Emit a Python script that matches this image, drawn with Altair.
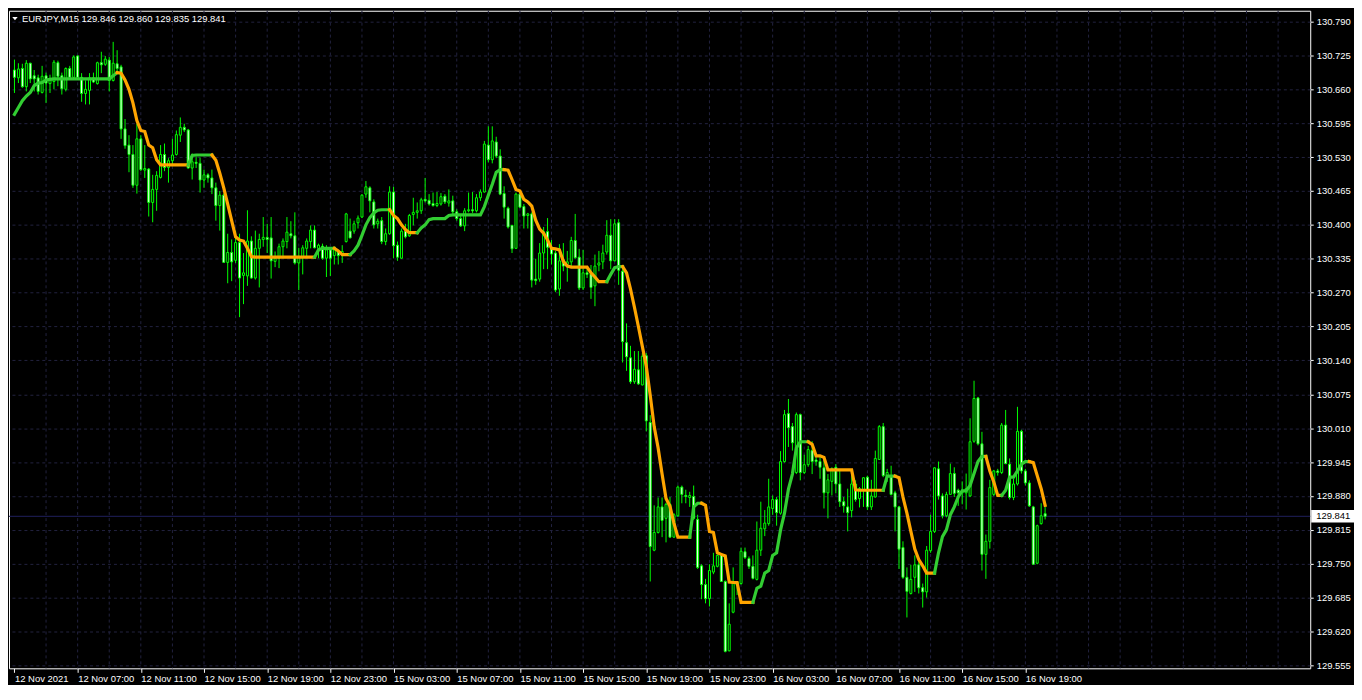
import altair as alt
import pandas as pd

FONT = "Liberation Sans"
LIME = "#00FF00"
MA_UP = "#32CD32"
MA_DOWN = "#FFA500"
GRID = "#22223f"
BIDLINE = "#20205e"

symbol = "EURJPY,M15"

opens = [
130.697, 130.682, 130.700, 130.665, 130.710, 130.686, 130.682, 130.654, 130.686, 130.671,
130.675, 130.711, 130.686, 130.660, 130.700, 130.683, 130.724, 130.683, 130.652, 130.658,
130.682, 130.671, 130.711, 130.708, 130.716, 130.677, 130.709, 130.703, 130.584, 130.553,
130.535, 130.476, 130.565, 130.505, 130.507, 130.443, 130.468, 130.491, 130.535, 130.510,
130.523, 130.535, 130.572, 130.587, 130.582, 130.509, 130.520, 130.518, 130.486, 130.496,
130.490, 130.471, 130.437, 130.457, 130.328, 130.347, 130.332, 130.366, 130.303, 130.302,
130.369, 130.298, 130.355, 130.372, 130.376, 130.375, 130.330, 130.336, 130.358, 130.368,
130.383, 130.379, 130.327, 130.339, 130.355, 130.368, 130.390, 130.355, 130.359, 130.336,
130.352, 130.341, 130.350, 130.345, 130.368, 130.388, 130.388, 130.404, 130.415, 130.459,
130.471, 130.444, 130.402, 130.408, 130.368, 130.383, 130.463, 130.361, 130.336, 130.388,
130.379, 130.420, 130.424, 130.427, 130.449, 130.447, 130.441, 130.437, 130.440, 130.455,
130.442, 130.446, 130.425, 130.412, 130.398, 130.427, 130.429, 130.427, 130.452, 130.463,
130.553, 130.525, 130.559, 130.532, 130.460, 130.432, 130.399, 130.355, 130.459, 130.435,
130.418, 130.421, 130.296, 130.296, 130.346, 130.387, 130.357, 130.346, 130.277, 130.333,
130.324, 130.329, 130.370, 130.338, 130.279, 130.308, 130.306, 130.283, 130.323, 130.329,
130.348, 130.380, 130.331, 130.404, 130.311, 130.174, 130.145, 130.099, 130.122, 130.093,
130.149, 130.021, 129.776, 129.810, 129.859, 129.837, 129.864, 129.801, 129.842, 129.897,
129.881, 129.877, 129.879, 129.835, 129.746, 129.710, 129.683, 129.734, 129.745, 129.766,
129.716, 129.583, 129.657, 129.715, 129.712, 129.773, 129.760, 129.745, 129.720, 129.776,
129.817, 129.827, 129.856, 129.873, 129.847, 129.946, 130.038, 130.013, 129.925, 130.036,
129.925, 129.940, 129.967, 129.949, 129.946, 129.934, 129.886, 129.908, 129.935, 129.903,
129.869, 129.859, 129.852, 129.903, 129.875, 129.892, 129.916, 129.859, 129.878, 129.950,
130.013, 129.917, 129.919, 129.886, 129.859, 129.781, 129.724, 129.693, 129.724, 129.748,
129.704, 129.696, 129.775, 129.812, 129.932, 129.880, 129.842, 129.883, 129.923, 129.891,
129.886, 129.886, 129.880, 129.985, 130.068, 129.980, 129.768, 129.793, 129.883, 129.928,
129.925, 130.016, 129.941, 129.877, 129.903, 130.004, 129.928, 129.905, 129.859, 129.751,
129.827, 129.846]

highs = [
130.717, 130.710, 130.709, 130.716, 130.711, 130.697, 130.688, 130.705, 130.692, 130.688,
130.716, 130.715, 130.692, 130.702, 130.705, 130.725, 130.725, 130.691, 130.677, 130.691,
130.692, 130.713, 130.732, 130.724, 130.722, 130.751, 130.735, 130.707, 130.603, 130.572,
130.553, 130.594, 130.572, 130.553, 130.509, 130.496, 130.503, 130.553, 130.556, 130.528,
130.565, 130.581, 130.606, 130.594, 130.584, 130.537, 130.531, 130.529, 130.506, 130.499,
130.506, 130.481, 130.465, 130.460, 130.383, 130.372, 130.389, 130.383, 130.346, 130.428,
130.378, 130.389, 130.383, 130.415, 130.402, 130.415, 130.349, 130.364, 130.374, 130.415,
130.407, 130.424, 130.356, 130.361, 130.374, 130.399, 130.399, 130.364, 130.364, 130.361,
130.355, 130.358, 130.352, 130.361, 130.423, 130.412, 130.408, 130.418, 130.459, 130.484,
130.474, 130.449, 130.412, 130.415, 130.393, 130.474, 130.473, 130.368, 130.393, 130.402,
130.421, 130.452, 130.443, 130.452, 130.490, 130.459, 130.462, 130.463, 130.461, 130.459,
130.468, 130.456, 130.430, 130.418, 130.432, 130.462, 130.463, 130.459, 130.468, 130.561,
130.589, 130.589, 130.569, 130.545, 130.474, 130.435, 130.400, 130.462, 130.465, 130.440,
130.423, 130.424, 130.335, 130.365, 130.396, 130.413, 130.371, 130.350, 130.363, 130.365,
130.350, 130.377, 130.421, 130.354, 130.352, 130.318, 130.323, 130.343, 130.350, 130.362,
130.409, 130.411, 130.411, 130.411, 130.318, 130.211, 130.168, 130.158, 130.158, 130.154,
130.154, 130.035, 129.862, 129.877, 129.877, 129.867, 129.878, 129.847, 129.900, 129.900,
129.892, 129.888, 129.900, 129.844, 129.749, 129.721, 129.749, 129.771, 129.768, 129.770,
129.718, 129.674, 129.743, 129.716, 129.781, 129.781, 129.764, 129.766, 129.831, 129.869,
129.853, 129.913, 129.881, 129.878, 129.966, 130.045, 130.066, 130.020, 130.040, 130.038,
129.959, 129.976, 129.985, 129.960, 129.955, 129.950, 129.922, 129.935, 129.941, 129.928,
129.878, 129.894, 129.928, 129.910, 129.897, 129.916, 129.919, 129.911, 129.967, 130.016,
130.020, 129.932, 129.938, 129.890, 129.861, 129.793, 129.743, 129.748, 129.766, 129.756,
129.712, 129.784, 129.844, 129.935, 129.946, 129.885, 129.888, 129.942, 129.935, 129.894,
129.908, 129.923, 130.029, 130.101, 130.070, 130.003, 129.806, 129.911, 129.930, 129.932,
130.020, 130.045, 129.952, 129.913, 130.051, 130.007, 129.932, 129.910, 129.861, 129.825,
129.866, 129.860]

lows = [
130.653, 130.672, 130.663, 130.656, 130.672, 130.656, 130.650, 130.652, 130.634, 130.653,
130.660, 130.666, 130.650, 130.656, 130.678, 130.678, 130.680, 130.636, 130.631, 130.631,
130.672, 130.669, 130.691, 130.705, 130.656, 130.675, 130.692, 130.565, 130.546, 130.501,
130.471, 130.460, 130.503, 130.490, 130.416, 130.405, 130.427, 130.489, 130.503, 130.481,
130.515, 130.533, 130.559, 130.578, 130.508, 130.487, 130.509, 130.462, 130.471, 130.481,
130.459, 130.408, 130.389, 130.327, 130.288, 130.292, 130.327, 130.223, 130.248, 130.283,
130.297, 130.295, 130.280, 130.358, 130.346, 130.297, 130.319, 130.317, 130.336, 130.355,
130.374, 130.324, 130.275, 130.305, 130.336, 130.355, 130.355, 130.336, 130.333, 130.300,
130.302, 130.324, 130.324, 130.327, 130.366, 130.374, 130.383, 130.393, 130.413, 130.452,
130.424, 130.393, 130.393, 130.363, 130.361, 130.381, 130.336, 130.331, 130.335, 130.374,
130.377, 130.399, 130.412, 130.421, 130.443, 130.437, 130.435, 130.434, 130.437, 130.440,
130.435, 130.421, 130.408, 130.396, 130.388, 130.424, 130.423, 130.424, 130.446, 130.462,
130.520, 130.518, 130.528, 130.457, 130.412, 130.393, 130.346, 130.354, 130.432, 130.393,
130.393, 130.280, 130.285, 130.291, 130.315, 130.315, 130.324, 130.271, 130.264, 130.311,
130.291, 130.319, 130.335, 130.275, 130.275, 130.298, 130.258, 130.244, 130.311, 130.315,
130.343, 130.315, 130.330, 130.285, 130.136, 130.120, 130.095, 130.095, 130.093, 130.092,
130.004, 129.716, 129.774, 129.808, 129.801, 129.791, 129.800, 129.800, 129.840, 129.866,
129.866, 129.859, 129.834, 129.740, 129.682, 129.674, 129.668, 129.730, 129.743, 129.715,
129.580, 129.582, 129.655, 129.690, 129.710, 129.759, 129.740, 129.720, 129.718, 129.765,
129.803, 129.823, 129.844, 129.823, 129.844, 129.944, 129.974, 129.967, 129.922, 129.910,
129.922, 129.936, 129.922, 129.938, 129.913, 129.856, 129.837, 129.881, 129.885, 129.859,
129.848, 129.812, 129.839, 129.869, 129.858, 129.859, 129.853, 129.853, 129.877, 129.949,
129.916, 129.907, 129.881, 129.812, 129.740, 129.721, 129.647, 129.691, 129.696, 129.693,
129.666, 129.685, 129.771, 129.809, 129.873, 129.837, 129.839, 129.883, 129.878, 129.861,
129.864, 129.854, 129.878, 129.982, 129.977, 129.737, 129.721, 129.779, 129.880, 129.919,
129.922, 129.941, 129.873, 129.872, 129.900, 129.923, 129.900, 129.859, 129.748, 129.749,
129.825, 129.835]

closes = [
130.683, 130.699, 130.665, 130.710, 130.680, 130.680, 130.656, 130.685, 130.672, 130.681,
130.712, 130.685, 130.661, 130.700, 130.683, 130.722, 130.683, 130.652, 130.660, 130.682,
130.674, 130.711, 130.707, 130.718, 130.677, 130.710, 130.700, 130.584, 130.552, 130.535,
130.476, 130.565, 130.506, 130.508, 130.443, 130.468, 130.495, 130.535, 130.510, 130.523,
130.534, 130.573, 130.587, 130.582, 130.509, 130.521, 130.518, 130.486, 130.496, 130.490,
130.471, 130.437, 130.457, 130.328, 130.347, 130.329, 130.366, 130.298, 130.308, 130.369,
130.298, 130.355, 130.372, 130.376, 130.372, 130.331, 130.336, 130.358, 130.369, 130.386,
130.379, 130.327, 130.339, 130.356, 130.369, 130.390, 130.356, 130.361, 130.336, 130.352,
130.336, 130.352, 130.341, 130.349, 130.421, 130.375, 130.402, 130.413, 130.457, 130.473,
130.446, 130.400, 130.407, 130.368, 130.383, 130.463, 130.360, 130.338, 130.388, 130.377,
130.418, 130.424, 130.427, 130.448, 130.446, 130.440, 130.437, 130.441, 130.454, 130.444,
130.446, 130.425, 130.412, 130.398, 130.427, 130.429, 130.427, 130.452, 130.463, 130.555,
130.525, 130.561, 130.532, 130.459, 130.434, 130.396, 130.354, 130.459, 130.434, 130.417,
130.421, 130.294, 130.293, 130.346, 130.387, 130.357, 130.344, 130.275, 130.331, 130.321,
130.329, 130.370, 130.337, 130.279, 130.308, 130.305, 130.280, 130.321, 130.327, 130.346,
130.380, 130.331, 130.402, 130.313, 130.176, 130.147, 130.099, 130.123, 130.095, 130.148,
130.024, 129.783, 129.810, 129.859, 129.833, 129.864, 129.801, 129.844, 129.897, 129.883,
129.879, 129.881, 129.837, 129.743, 129.710, 129.683, 129.737, 129.746, 129.766, 129.716,
129.582, 129.634, 129.714, 129.709, 129.774, 129.762, 129.745, 129.722, 129.776, 129.818,
129.828, 129.859, 129.873, 129.848, 129.946, 130.036, 130.011, 129.982, 130.036, 129.925,
129.940, 129.969, 129.946, 129.946, 129.935, 129.886, 129.911, 129.932, 129.903, 129.869,
129.861, 129.848, 129.903, 129.873, 129.894, 129.915, 129.859, 129.880, 129.952, 130.013,
129.919, 129.925, 129.883, 129.859, 129.778, 129.724, 129.697, 129.720, 129.748, 129.704,
129.696, 129.776, 129.812, 129.934, 129.880, 129.842, 129.883, 129.923, 129.885, 129.886,
129.890, 129.894, 129.984, 130.067, 129.980, 129.768, 129.793, 129.896, 129.928, 129.925,
130.016, 129.942, 129.877, 129.903, 130.004, 129.928, 129.905, 129.861, 129.749, 129.823,
129.842, 129.841]

ma_values = [
130.612, 130.625, 130.638, 130.647, 130.654, 130.667, 130.672, 130.673, 130.678, 130.679,
130.680, 130.680, 130.680, 130.680, 130.680, 130.680, 130.680, 130.680, 130.680, 130.680,
130.680, 130.680, 130.680, 130.680, 130.680, 130.686, 130.692, 130.691, 130.678, 130.660,
130.634, 130.600, 130.581, 130.579, 130.553, 130.548, 130.525, 130.515, 130.515, 130.515,
130.515, 130.515, 130.515, 130.515, 130.515, 130.533, 130.534, 130.534, 130.534, 130.534,
130.534, 130.524, 130.499, 130.471, 130.440, 130.408, 130.377, 130.371, 130.369, 130.355,
130.339, 130.338, 130.338, 130.338, 130.338, 130.338, 130.338, 130.338, 130.338, 130.338,
130.338, 130.338, 130.338, 130.338, 130.338, 130.338, 130.338, 130.352, 130.355, 130.355,
130.355, 130.355, 130.350, 130.343, 130.343, 130.343, 130.350, 130.361, 130.380, 130.400,
130.414, 130.423, 130.428, 130.429, 130.429, 130.429, 130.418, 130.412, 130.400, 130.391,
130.385, 130.385, 130.385, 130.394, 130.400, 130.410, 130.412, 130.412, 130.412, 130.412,
130.418, 130.419, 130.419, 130.419, 130.419, 130.419, 130.419, 130.419, 130.419, 130.435,
130.457, 130.478, 130.501, 130.506, 130.506, 130.505, 130.487, 130.468, 130.465, 130.449,
130.444, 130.436, 130.409, 130.392, 130.384, 130.371, 130.355, 130.354, 130.352, 130.330,
130.321, 130.319, 130.319, 130.319, 130.319, 130.319, 130.308, 130.300, 130.291, 130.291,
130.291, 130.305, 130.318, 130.320, 130.320, 130.308, 130.277, 130.242, 130.205, 130.167,
130.129, 130.073, 130.013, 129.972, 129.922, 129.875, 129.860, 129.828, 129.801, 129.801,
129.801, 129.801, 129.859, 129.866, 129.866, 129.862, 129.812, 129.810, 129.771, 129.768,
129.765, 129.715, 129.714, 129.714, 129.676, 129.676, 129.676, 129.676, 129.703, 129.707,
129.732, 129.737, 129.766, 129.771, 129.815, 129.847, 129.893, 129.922, 129.972, 129.984,
129.984, 129.984, 129.979, 129.957, 129.957, 129.954, 129.930, 129.930, 129.930, 129.930,
129.930, 129.930, 129.930, 129.892, 129.891, 129.891, 129.891, 129.891, 129.891, 129.891,
129.891, 129.918, 129.918, 129.918, 129.915, 129.878, 129.847, 129.812, 129.778, 129.758,
129.746, 129.732, 129.732, 129.732, 129.771, 129.802, 129.815, 129.844, 129.859, 129.878,
129.890, 129.890, 129.900, 129.923, 129.946, 129.956, 129.956, 129.928, 129.907, 129.881,
129.881, 129.891, 129.916, 129.916, 129.928, 129.941, 129.946, 129.946, 129.944, 129.919,
129.894, 129.862]

price_ticks = [129.555, 129.620, 129.685, 129.750, 129.815, 129.880, 129.945, 130.010,
               130.075, 130.140, 130.205, 130.270, 130.335, 130.400, 130.465, 130.530,
               130.595, 130.660, 130.725, 130.790]

time_labels = ["12 Nov 2021", "12 Nov 07:00", "12 Nov 11:00", "12 Nov 15:00",
               "12 Nov 19:00", "12 Nov 23:00", "15 Nov 03:00", "15 Nov 07:00",
               "15 Nov 11:00", "15 Nov 15:00", "15 Nov 19:00", "15 Nov 23:00",
               "16 Nov 03:00", "16 Nov 07:00", "16 Nov 11:00", "16 Nov 15:00",
               "16 Nov 19:00"]
time_label_bars = [0, 16, 32, 48, 64, 80, 96, 112, 128, 144, 160, 176, 192, 208, 224, 240, 256]
time_grid_bars = [8, 16, 24, 32, 40, 48, 56, 64, 72, 80, 88, 96, 104, 112, 120, 128, 136,
                  144, 152, 160, 168, 176, 184, 192, 200, 208, 216, 224, 232, 240, 248,
                  256, 264, 272, 280, 288, 296, 304, 312, 320]

n = len(closes)
assert len(opens) == n and len(highs) == n and len(lows) == n and len(ma_values) == n

W, H = 1308, 661

df = pd.DataFrame({"k": list(range(n)), "open": opens, "high": highs,
                   "low": lows, "close": closes})
df["top"] = df[["open", "close"]].max(axis=1)
df["bot"] = df[["open", "close"]].min(axis=1)
df["side"] = ["bear" if c < o else "bull" for o, c in zip(opens, closes)]

# moving-average coloured by direction (flat parts keep previous colour)
trend = []
cur = "up"
for i, v in enumerate(ma_values):
    if i > 0:
        if v > ma_values[i - 1]:
            cur = "up"
        elif v < ma_values[i - 1]:
            cur = "down"
    trend.append(cur)
ma_rows = []
run = 0
for i, v in enumerate(ma_values):
    if i > 0 and trend[i] != trend[i - 1]:
        run += 1
        ma_rows.append({"k": i - 1, "ma": ma_values[i - 1], "run": run, "trend": trend[i]})
    ma_rows.append({"k": i, "ma": v, "run": run, "trend": trend[i]})
ma_df = pd.DataFrame(ma_rows)

xscale = alt.Scale(domain=[-0.125, 326.875], nice=False, zero=False)
yscale = alt.Scale(domain=[129.5494, 130.8107], nice=False, zero=False)

label_expr = "[" + ",".join("'%s'" % t for t in time_labels) + "][round(datum.value/16)]"
x_axis = alt.Axis(values=time_label_bars, labelExpr=label_expr, labelAlign="left",
                  labelColor="white", labelFont=FONT, labelFontSize=9.5, labelPadding=1,
                  tickColor="white", tickSize=4, domain=False, grid=False,
                  labelOverlap=False, labelFlush=False, labelBound=False, title=None)
y_axis = alt.Axis(orient="right", values=price_ticks, format=".3f", labelColor="white",
                  labelFont=FONT, labelFontSize=9.5, labelPadding=3, tickColor="white",
                  tickSize=3, domain=False, grid=True, gridColor=GRID, gridDash=[3, 3],
                  gridWidth=1, labelOverlap=False, labelFlush=False, labelBound=False,
                  title=None)


def X(field):
    return alt.X(field + ":Q", scale=xscale, axis=x_axis)


def Y(field):
    return alt.Y(field + ":Q", scale=yscale, axis=y_axis)


vgrid = alt.Chart(pd.DataFrame({"k": time_grid_bars})).mark_rule(
    color=GRID, strokeWidth=1, strokeDash=[3, 3]).encode(x=X("k"))

bid_df = pd.DataFrame({"bid": [closes[-1]]})
bid_df["hi"] = bid_df["bid"] + 0.012
bid_df["lo"] = bid_df["bid"] - 0.012
bid_df["txt"] = ["%.3f" % closes[-1]]

bidline = alt.Chart(bid_df).mark_rule(color=BIDLINE, strokeWidth=1).encode(y=Y("bid"))

wicks = alt.Chart(df).mark_rule(color=LIME, strokeWidth=1).encode(
    x=X("k"), y=Y("low"), y2="high")

bodies = alt.Chart(df).mark_bar(size=2, stroke=LIME, strokeWidth=1).encode(
    x=X("k"), y=Y("top"), y2="bot",
    fill=alt.Fill("side:N", scale=alt.Scale(domain=["bull", "bear"],
                                            range=["#000000", "#FFFFFF"]), legend=None))

ma_line = alt.Chart(ma_df).mark_line(strokeWidth=3.2, strokeCap="square").encode(
    x=X("k"), y=Y("ma"), detail="run:N", order="k:Q",
    color=alt.Color("trend:N", scale=alt.Scale(domain=["up", "down"],
                                               range=[MA_UP, MA_DOWN]), legend=None))

bid_box = alt.Chart(bid_df).mark_rect(color="white").encode(
    x=alt.value(W + 1), x2=alt.value(W + 44), y=Y("hi"), y2="lo")
bid_text = alt.Chart(bid_df).mark_text(align="left", baseline="middle", color="black",
                                       font=FONT, fontSize=9.5).encode(
    x=alt.value(W + 6), y=Y("bid"), text="txt:N")

title_str = "%s  %.3f %.3f %.3f %.3f" % (symbol, opens[-1], highs[-1], lows[-1], closes[-1])
title_df = pd.DataFrame({"t": [title_str]})
title_text = alt.Chart(title_df).mark_text(align="left", baseline="middle", color="white",
                                           font=FONT, fontSize=9.5).encode(
    x=alt.value(13), y=alt.value(8), text="t:N")
tri = alt.Chart(title_df).mark_point(shape="M-1,-0.6L1,-0.6L0,0.6Z", filled=True,
                                     size=30, color="white", opacity=1).encode(
    x=alt.value(6), y=alt.value(8))

chart = alt.layer(vgrid, bidline, wicks, bodies, ma_line, bid_box, bid_text,
                  title_text, tri).properties(
    width=W, height=H, padding=0, background="#000000"
).configure_view(stroke="#FFFFFF", strokeWidth=1)

chart.save("out.html", embed_options={"renderer": "svg", "actions": False})
